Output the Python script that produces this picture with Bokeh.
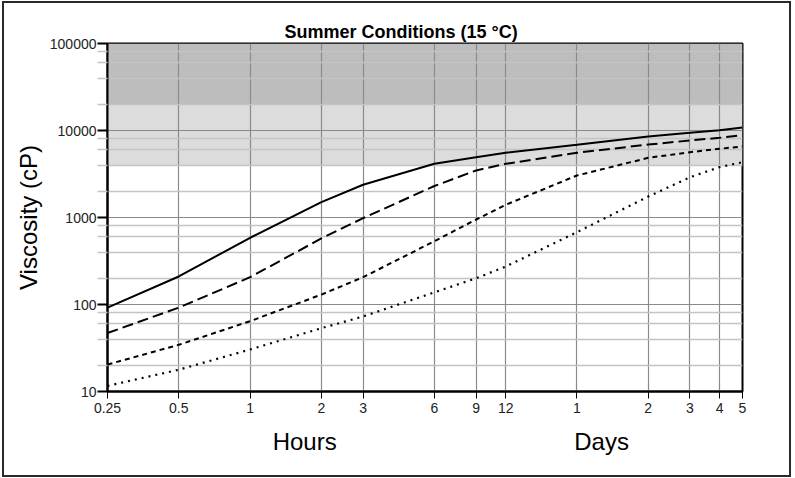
from bokeh.plotting import figure
from bokeh.layouts import column
from bokeh.models import FixedTicker, LogAxis
from bokeh.embed import file_html
from bokeh.resources import INLINE

# ---- data ----
hours = [0.25, 0.5, 1, 2, 3, 6, 9, 12, 24, 48, 72, 96, 120]
x_tick_labels = ["0.25", "0.5", "1", "2", "3", "6", "9", "12", "1", "2", "3", "4", "5"]

visc_solid = [92, 210, 585, 1500, 2380, 4140, 4930, 5540, 6850, 8530, 9400, 10090, 10820]
visc_longdash = [47, 92, 206, 575, 982, 2300, 3470, 4140, 5540, 6900, 7670, 8240, 8830]
visc_shortdash = [20.4, 34.4, 64.3, 130, 206, 534, 948, 1400, 3040, 4850, 5630, 6160, 6550]
visc_dotted = [11.6, 17.8, 30.4, 53.4, 72.8, 138, 200, 273, 678, 1740, 2900, 3790, 4320]

y_ticks = [10, 100, 1000, 10000, 100000]
y_tick_labels = ["10", "100", "1000", "10000", "100000"]
y_minor = [m * d for d in [10, 100, 1000, 10000] for m in (2, 4, 6, 8)]

band_bottoms = [4000, 20000]
band_tops = [20000, 100000]
band_colors = ["#dcdcdc", "#bdbdbd"]

unit_label_pos = [1.7, 30.5]
unit_labels = ["Hours", "Days"]

FONT = "Liberation Sans"

p = figure(width=785, height=472, x_axis_type="log", y_axis_type="log",
           x_range=(hours[0], hours[-1]), y_range=(y_ticks[0], y_ticks[-1]),
           output_backend="svg", toolbar_location=None,
           min_border_left=103, min_border_right=47, min_border_top=40, min_border_bottom=84)
p.background_fill_color = "white"
p.border_fill_color = "white"
p.outline_line_color = "black"
p.outline_line_width = 2

# title
p.title.text = "Summer Conditions (15 °C)"
p.title.align = "left"
p.title.offset = 177
p.title.standoff = 3
p.title.text_font = FONT
p.title.text_font_size = "18px"
p.title.text_font_style = "bold"
p.title.text_color = "black"

# shaded bands under the grid
p.quad(left=hours[0], right=hours[-1], bottom=band_bottoms, top=band_tops,
       fill_color=band_colors, line_color=None, level="image")

# grids
p.xgrid.ticker = FixedTicker(ticks=hours)
p.xgrid.grid_line_color = "#8a8a8a"
p.xgrid.grid_line_width = 1.2
p.ygrid.ticker = FixedTicker(ticks=y_ticks, minor_ticks=y_minor)
p.ygrid.grid_line_color = "#8a8a8a"
p.ygrid.grid_line_width = 1.2
p.ygrid.minor_grid_line_color = "#c4c4c4"
p.ygrid.minor_grid_line_width = 1.5

# x axis
xa = p.xaxis[0]
xa.ticker = FixedTicker(ticks=hours)
xa.major_label_overrides = {h: lab for h, lab in zip(hours, x_tick_labels)}
xa.axis_line_width = 2
xa.axis_line_color = "black"
xa.major_tick_out = 7
xa.major_tick_in = 0
xa.minor_tick_out = 0
xa.minor_tick_in = 0
xa.major_tick_line_color = "black"
xa.major_label_standoff = 4
xa.major_label_text_font = FONT
xa.major_label_text_font_size = "14px"
xa.major_label_text_color = "#222"

# second bottom axis carrying the "Hours" / "Days" captions
ua = LogAxis(ticker=FixedTicker(ticks=unit_label_pos),
             major_label_overrides={v: t for v, t in zip(unit_label_pos, unit_labels)},
             axis_line_color=None, major_tick_line_color=None, minor_tick_line_color=None,
             major_tick_out=0, major_tick_in=0, minor_tick_out=0, minor_tick_in=0,
             major_label_standoff=12, major_label_text_font=FONT,
             major_label_text_font_size="24px", major_label_text_color="black")
p.add_layout(ua, "below")

# y axis
ya = p.yaxis[0]
ya.ticker = FixedTicker(ticks=y_ticks, minor_ticks=y_minor)
ya.major_label_overrides = {t: lab for t, lab in zip(y_ticks, y_tick_labels)}
ya.axis_line_width = 2
ya.axis_line_color = "black"
ya.major_tick_out = 10
ya.major_tick_in = 0
ya.major_tick_line_width = 2
ya.major_tick_line_color = "black"
ya.minor_tick_out = 10
ya.minor_tick_in = 0
ya.minor_tick_line_color = "#c4c4c4"
ya.minor_tick_line_width = 1.5
ya.major_label_standoff = 1
ya.major_label_text_font = FONT
ya.major_label_text_font_size = "14px"
ya.major_label_text_color = "#222"
ya.axis_label = "Viscosity (cP)"
ya.axis_label_standoff = 5
ya.axis_label_text_font = FONT
ya.axis_label_text_font_size = "24px"
ya.axis_label_text_font_style = "normal"
ya.axis_label_text_color = "black"

# curves
p.line(hours, visc_solid, line_color="black", line_width=2)
p.line(hours, visc_longdash, line_color="black", line_width=2, line_dash="11 5")
p.line(hours, visc_shortdash, line_color="black", line_width=2, line_dash="5 4")
p.line(hours, visc_dotted, line_color="black", line_width=2.2, line_dash="2 5")

# outer border of the whole chart via the wrapping layout
layout = column(p, styles={"border": "2px solid #2a2a2a", "margin": "1px 0 0 2px"})

open("out.html", "w").write(file_html(layout, INLINE))
